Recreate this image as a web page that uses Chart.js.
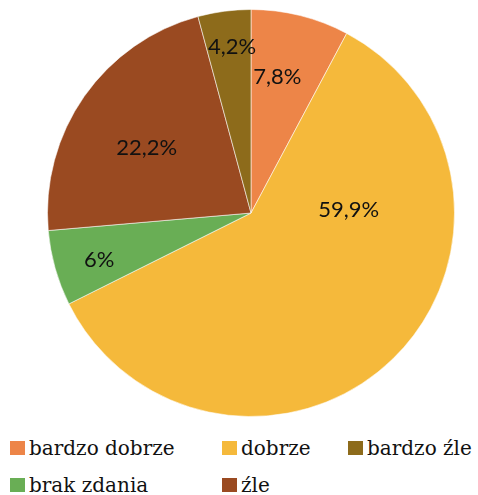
<!DOCTYPE html>
<html>
<head>
<meta charset="utf-8">
<script src="https://cdn.jsdelivr.net/npm/chart.js@4"></script>
<style>
  body { margin: 0; background: #fff; }
  #wrap { position: relative; width: 478px; height: 495px; }
  #chartBox { position: absolute; left: 0; top: 0; width: 478px; height: 430px; }
  #legend {
    position: absolute; left: 10px; top: 436px;
    display: grid; grid-template-columns: 212px 126px auto; grid-auto-rows: 37px;
    font-family: "DejaVu Serif", serif; font-size: 20px; line-height: 24px; color: #111;
  }
  .item { display: flex; align-items: flex-start; white-space: nowrap; }
  .box { width: 15px; height: 14px; margin-top: 5px; margin-right: 4px; flex: none; }
</style>
</head>
<body>
<div id="wrap">
  <div id="chartBox"><canvas id="myChart"></canvas></div>
  <div id="legend"></div>
</div>
<script>
const labels = ['bardzo dobrze', 'dobrze', 'brak zdania', 'źle', 'bardzo źle'];
const values = [7.8, 59.9, 6, 22.2, 4.2];
const colors = ['#ED8548', '#F5B93B', '#69AE55', '#9A4A21', '#8D6B1B'];
// order of entries in the legend grid (row by row)
const legendOrder = [0, 1, 4, 2, 3];

// where each value label sits: angle from top (deg, clockwise), fraction of radius
const labelAngle = [11, 88, 253, 302, 353.5];
const labelRadius = [0.68, 0.48, 0.78, 0.605, 0.82];

const pieLabels = {
  id: 'pieLabels',
  afterDatasetsDraw(chart) {
    const c = chart.ctx;
    const arcs = chart.getDatasetMeta(0).data;
    c.save();
    c.font = '22px Lato';
    c.fillStyle = '#111';
    c.textAlign = 'center';
    c.textBaseline = 'middle';
    arcs.forEach((arc, i) => {
      const a = labelAngle[i] * Math.PI / 180;
      const r = arc.outerRadius * labelRadius[i];
      const x = arc.x + r * Math.sin(a);
      const y = arc.y - r * Math.cos(a);
      c.fillText(String(values[i]).replace('.', ',') + '%', x, y);
    });
    c.restore();
  }
};

const ctx = document.getElementById('myChart');

const chart = new Chart(ctx, {
  type: 'pie',
  data: {
    labels: labels,
    datasets: [{
      data: values,
      backgroundColor: colors,
      borderColor: 'rgba(255,255,255,0.55)',
      borderWidth: 1
    }]
  },
  options: {
    responsive: true,
    maintainAspectRatio: false,
    animation: false,
    layout: { padding: { top: 9, bottom: 13, left: 24, right: 0 } },
    plugins: {
      legend: { display: false },
      tooltip: { enabled: false }
    }
  },
  plugins: [pieLabels]
});

const legend = document.getElementById('legend');
legendOrder.forEach(i => {
  const item = document.createElement('div');
  item.className = 'item';
  const box = document.createElement('span');
  box.className = 'box';
  box.style.background = colors[i];
  const txt = document.createElement('span');
  txt.textContent = labels[i];
  item.appendChild(box);
  item.appendChild(txt);
  legend.appendChild(item);
});
</script>
</body>
</html>
